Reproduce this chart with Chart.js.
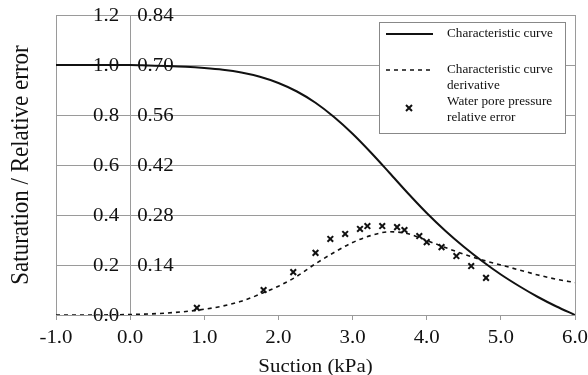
<!DOCTYPE html>
<html>
<head>
<meta charset="utf-8">
<script src="https://cdn.jsdelivr.net/npm/chart.js@4"></script>
<style>
  html, body { margin: 0; padding: 0; background: #fff; }
  #wrap { width: 588px; height: 375px; }
</style>
</head>
<body>
<div id="wrap"><canvas id="chart" width="588" height="375"></canvas></div>
<script>
// suction (kPa) for the two curves
const curveX = [-1, -0.5, 0, 0.25, 0.5, 0.75, 1, 1.25, 1.5, 1.75, 2, 2.25, 2.5, 2.75, 3,
  3.25, 3.5, 3.75, 4, 4.25, 4.5, 4.75, 5, 5.25, 5.5, 5.75, 6]
const saturation = [1, 1, 1, 0.998, 0.996, 0.993, 0.988, 0.981, 0.97, 0.953, 0.928, 0.894,
  0.849, 0.792, 0.725, 0.649, 0.568, 0.486, 0.408, 0.337, 0.273, 0.215, 0.162, 0.115, 0.072, 0.034, 0]
const derivative = [0, 0, 0.002, 0.004, 0.008, 0.014, 0.023, 0.036, 0.055, 0.083, 0.115, 0.155,
  0.205, 0.25, 0.29, 0.318, 0.333, 0.325, 0.298, 0.27, 0.243, 0.22, 0.2, 0.18, 0.16, 0.143, 0.13]

// relative error points (right scale)
const errX = [0.9, 1.8, 2.2, 2.5, 2.7, 2.9, 3.1, 3.2, 3.4, 3.6, 3.7, 3.9, 4.0, 4.2, 4.4, 4.6, 4.8]
const relError = [0.02, 0.07, 0.12, 0.174, 0.213, 0.227, 0.241, 0.249, 0.249, 0.246, 0.238,
  0.221, 0.204, 0.19, 0.165, 0.137, 0.104]

// tick labels
const xTickValues = [-1, 0, 1, 2, 3, 4, 5, 6]
const xTickLabels = ['-1.0', '0.0', '1.0', '2.0', '3.0', '4.0', '5.0', '6.0']
const satTickValues = [0, 0.2, 0.4, 0.6, 0.8, 1.0, 1.2]
const satTickLabels = ['0.0', '0.2', '0.4', '0.6', '0.8', '1.0', '1.2']
const errTickValues = [0.14, 0.28, 0.42, 0.56, 0.70, 0.84]
const errTickLabels = ['0.14', '0.28', '0.42', '0.56', '0.70', '0.84']

const labels = ['Characteristic curve', 'Characteristic curve\nderivative', 'Water pore pressure\nrelative error']
const xTitle = 'Suction (kPa)'
const yTitle = 'Saturation / Relative error'

const SERIF = "'Liberation Serif', 'DejaVu Serif', serif"
const GRID = '#9a9a9a'
const INK = '#111'

function pairs(xs, ys) {
  return xs.map((x, i) => ({ x: x, y: ys[i] }))
}

// text is a little wider than plain Times in the original
function wideText(ctx, text, x, y, size, align, stretch) {
  ctx.save()
  ctx.translate(x, y)
  ctx.scale(stretch, 1)
  ctx.font = size + 'px ' + SERIF
  ctx.textAlign = align
  ctx.textBaseline = 'middle'
  ctx.fillStyle = INK
  ctx.fillText(text, 0, 0)
  ctx.restore()
}

// tick labels, y labels either side of the x = 0 axis, and titles
const axisText = {
  id: 'axisText',
  afterDraw(chart) {
    const ctx = chart.ctx
    const sx = chart.scales.x, sy = chart.scales.y, sy2 = chart.scales.y2
    const x0 = sx.getPixelForValue(0)
    satTickValues.forEach((v, i) => {
      wideText(ctx, satTickLabels[i], x0 - 11, sy.getPixelForValue(v) + 1, 19, 'right', 1.1)
    })
    errTickValues.forEach((v, i) => {
      wideText(ctx, errTickLabels[i], x0 + 7, sy2.getPixelForValue(v) + 1, 19, 'left', 1.1)
    })
    xTickValues.forEach((v, i) => {
      wideText(ctx, xTickLabels[i], sx.getPixelForValue(v), sy.bottom + 23, 19, 'center', 1.1)
    })
    const ca = chart.chartArea
    wideText(ctx, xTitle, (ca.left + ca.right) / 2, sy.bottom + 52, 19, 'center', 1.1)

    ctx.save()
    ctx.translate(22, (ca.top + ca.bottom) / 2)
    ctx.rotate(-Math.PI / 2)
    ctx.scale(1, 1.05)
    ctx.font = '23px ' + SERIF
    ctx.textAlign = 'center'
    ctx.textBaseline = 'middle'
    ctx.fillStyle = INK
    ctx.fillText(yTitle, 0, 0)
    ctx.restore()
  }
}

// boxed legend with wrapped labels
const boxLegend = {
  id: 'boxLegend',
  afterDraw(chart) {
    const ctx = chart.ctx
    const left = 379, top = 22, w = 186, h = 111
    ctx.save()
    ctx.fillStyle = '#fff'
    ctx.fillRect(left, top, w, h)
    ctx.strokeStyle = '#888'
    ctx.lineWidth = 1
    ctx.strokeRect(left + 0.5, top + 0.5, w, h)
    const rows = [34, 70, 102]
    chart.data.datasets.forEach((ds, i) => {
      const y = rows[i]
      ctx.strokeStyle = INK
      if (ds.showLine === false) {
        ctx.lineWidth = 2
        ctx.beginPath()
        ctx.moveTo(406, y + 3); ctx.lineTo(412, y + 9)
        ctx.moveTo(412, y + 3); ctx.lineTo(406, y + 9)
        ctx.stroke()
      } else {
        ctx.lineWidth = ds.borderWidth
        ctx.setLineDash(ds.borderDash || [])
        ctx.beginPath()
        ctx.moveTo(386, y)
        ctx.lineTo(433, y)
        ctx.stroke()
        ctx.setLineDash([])
      }
      ds.label.split('\n').forEach((line, j) => {
        wideText(ctx, line, 447, y + j * 16, 12, 'left', 1.1)
      })
    })
    ctx.restore()
  }
}

new Chart(document.getElementById('chart'), {
  type: 'line',
  data: {
    datasets: [
      {
        label: labels[0],
        data: pairs(curveX, saturation),
        borderColor: INK,
        borderWidth: 2,
        pointRadius: 0,
        cubicInterpolationMode: 'monotone',
        yAxisID: 'y'
      },
      {
        label: labels[1],
        data: pairs(curveX, derivative),
        borderColor: INK,
        borderWidth: 1.6,
        borderDash: [4, 4],
        pointRadius: 0,
        cubicInterpolationMode: 'monotone',
        yAxisID: 'y'
      },
      {
        label: labels[2],
        data: pairs(errX, relError),
        showLine: false,
        pointStyle: 'crossRot',
        pointRadius: 4,
        borderColor: INK,
        borderWidth: 2,
        yAxisID: 'y2'
      }
    ]
  },
  options: {
    responsive: false,
    animation: false,
    layout: { padding: { left: 0, right: 13, top: 15, bottom: 0 } },
    plugins: { legend: { display: false }, tooltip: { enabled: false } },
    scales: {
      x: {
        type: 'linear',
        min: -1,
        max: 6,
        afterFit: (s) => { s.height = 60 },
        ticks: { stepSize: 1, display: false },
        grid: {
          color: (c) => (c.tick && [-1, 0, 6].includes(c.tick.value)) ? GRID : 'rgba(0,0,0,0)',
          tickColor: GRID,
          tickLength: 5
        },
        border: { color: GRID }
      },
      y: {
        min: 0,
        max: 1.2,
        afterFit: (s) => { s.width = 56 },
        ticks: { stepSize: 0.2, display: false },
        grid: { color: GRID, drawTicks: false },
        border: { color: GRID }
      },
      y2: {
        min: 0,
        max: 0.84,
        display: false
      }
    }
  },
  plugins: [axisText, boxLegend]
})
</script>
</body>
</html>
